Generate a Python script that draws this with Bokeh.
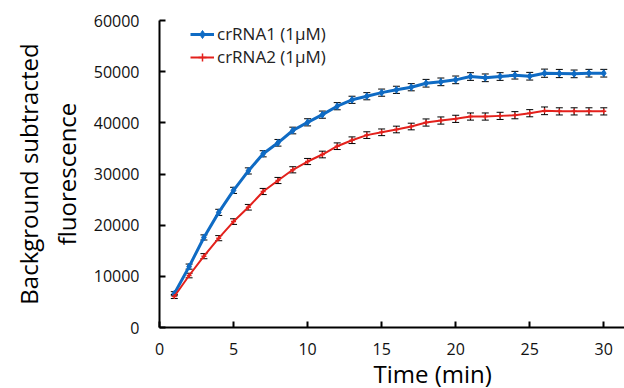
from bokeh.plotting import figure
from bokeh.models import ColumnDataSource, Whisker, TeeHead, Legend, LegendItem, Title, FixedTicker
from bokeh.embed import file_html
from bokeh.resources import INLINE

time_min = list(range(1, 31))
crrna1 = [6600, 11900, 17600, 22500, 26800, 30600, 33950, 36100, 38500, 40100,
          41600, 43250, 44500, 45200, 45900, 46450, 46960, 47740, 48010, 48400,
          49050, 48800, 49050, 49310, 49110, 49700, 49640, 49570, 49700, 49700]
crrna2 = [6060, 10160, 13940, 17460, 20700, 23500, 26580, 28730, 30820, 32440,
          33810, 35430, 36600, 37600, 38150, 38700, 39280, 40060, 40450, 40780,
          41230, 41230, 41360, 41490, 41880, 42350, 42240, 42240, 42240, 42240]
crrna1_err = [400, 500, 500, 600, 600, 600, 600, 650, 650, 700,
              700, 700, 700, 700, 700, 700, 700, 750, 750, 750,
              750, 750, 750, 750, 750, 800, 800, 750, 750, 750]
crrna2_err = [400, 450, 500, 500, 550, 550, 600, 600, 600, 600,
              650, 650, 650, 650, 650, 650, 650, 700, 700, 700,
              700, 700, 700, 700, 700, 750, 700, 700, 700, 700]
x_ticks = [0, 5, 10, 15, 20, 25, 30]
y_ticks = [0, 10000, 20000, 30000, 40000, 50000, 60000]
series_names = ["crRNA1 (1\u03bcM)", "crRNA2 (1\u03bcM)"]
x_title = "Time (min)"
y_title_lines = ["Background subtracted", "fluorescence"]

FONT = "Open Sans"
BLUE = "#0F6BC4"
RED = "#E3211C"

p = figure(width=624, height=388, output_backend="svg", toolbar_location=None,
           x_range=(0, 31.4), y_range=(0, 60000),
           min_border_left=159, min_border_right=0, min_border_top=20, min_border_bottom=61)
p.outline_line_color = None
p.grid.visible = False

def make_src(y, err):
    return ColumnDataSource(dict(x=time_min, y=y,
                                 lo=[a - b for a, b in zip(y, err)],
                                 hi=[a + b for a, b in zip(y, err)]))

s1 = make_src(crrna1, crrna1_err)
s2 = make_src(crrna2, crrna2_err)

l1 = p.line("x", "y", source=s1, line_color=BLUE, line_width=3)
m1 = p.scatter("x", "y", source=s1, marker="diamond", size=7, color=BLUE)
l2 = p.line("x", "y", source=s2, line_color=RED, line_width=2)
m2 = p.scatter("x", "y", source=s2, marker="cross", size=5, color=RED, line_width=1.5)

for src in (s1, s2):
    w = Whisker(source=src, base="x", lower="lo", upper="hi",
                line_color="black", line_width=1,
                upper_head=TeeHead(size=7, line_color="black", line_width=1),
                lower_head=TeeHead(size=7, line_color="black", line_width=1))
    p.add_layout(w)

legend = Legend(items=[LegendItem(label=series_names[0], renderers=[l1, m1]),
                       LegendItem(label=series_names[1], renderers=[l2, m2])],
                location=(31, 259), padding=0, margin=0, spacing=0,
                border_line_color=None, background_fill_alpha=0,
                glyph_width=24, glyph_height=20, label_height=20, label_standoff=3,
                label_text_font=FONT, label_text_font_size="17px", label_text_color="#222222")
p.add_layout(legend)

for ax in (p.xaxis[0], p.yaxis[0]):
    ax.axis_line_color = "black"
    ax.axis_line_width = 2
    ax.major_tick_line_color = "black"
    ax.major_tick_line_width = 2
    ax.major_tick_in = 6
    ax.major_tick_out = 0
    ax.minor_tick_line_color = None
    ax.major_label_text_font = FONT
    ax.major_label_text_font_size = "16px"
    ax.major_label_text_color = "#111111"

p.xaxis[0].ticker = FixedTicker(ticks=x_ticks)
p.yaxis[0].ticker = FixedTicker(ticks=y_ticks)
p.xaxis[0].major_label_standoff = 15
p.yaxis[0].major_label_standoff = 20

ya = p.yaxis[0]
ya.axis_label = "\n".join(y_title_lines)
ya.axis_label_standoff = 8
ya.axis_label_text_font = FONT
ya.axis_label_text_font_size = "24px"
ya.axis_label_text_font_style = "normal"
ya.axis_label_text_color = "black"
ya.axis_label_text_line_height = 1.15

tx = Title(text=x_title, align="left", offset=214, standoff=-6,
           text_font=FONT, text_font_size="24px", text_font_style="normal", text_color="black")
p.add_layout(tx, "below")

open("out.html", "w").write(file_html(p, INLINE))
